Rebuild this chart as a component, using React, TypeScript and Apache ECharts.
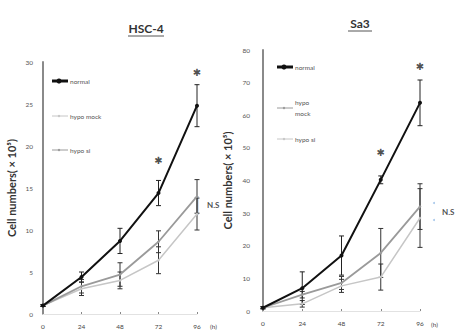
import React, { useEffect, useRef } from "react";
import * as echarts from "echarts";

const hours = [0, 24, 48, 72, 96];
const hourLabels = ["0", "24", "48", "72", "96"];

// HSC-4
const hscNormal = [1, 4.4, 8.7, 14.4, 24.8];
const hscNormalErr = [0.1, 0.6, 1.5, 1.5, 2.5];
const hscMock = [1, 3.0, 4.0, 6.4, 11.9];
const hscMockErr = [0.1, 0.8, 1.0, 1.6, 1.9];
const hscSi = [1, 3.3, 4.7, 8.6, 14.0];
const hscSiErr = [0.1, 0.8, 1.4, 1.3, 2.0];
const hscStars = [[72, 18.3], [96, 28.7]];
const hscNS = [[96, 13]];

// Sa3
const saNormal = [1, 7, 17, 40.2, 63.8];
const saNormalErr = [0.3, 5, 6, 1.2, 7];
const saMock = [1, 2.2, 7.7, 10.4, 28.5];
const saMockErr = [0.3, 1, 2, 4, 9];
const saSi = [1, 5, 8.6, 17.8, 32];
const saSiErr = [0.3, 1, 2, 7.5, 7];
const saStars = [[72, 48.5], [96, 74.8]];
const saNS = [[96, 30.4]];

const BLACK = "#111111";
const MID = "#9a9a9a";
const LIGHT = "#c6c6c6";
const FONT = "Lato, 'Open Sans', sans-serif";

function pts(vals: number[]) {
  return hours.map((h, i) => [h, vals[i]]);
}
function errs(vals: number[], e: number[]) {
  return hours.map((h, i) => [h, vals[i] - e[i], vals[i] + e[i]]);
}

function errSeries(data: number[][], idx: number, color: string) {
  return {
    type: "custom",
    xAxisIndex: idx,
    yAxisIndex: idx,
    silent: true,
    z: 1,
    encode: { x: 0, y: [1, 2] },
    data,
    renderItem: (params: any, api: any) => {
      const x = api.value(0);
      const lo = api.value(1);
      const hi = api.value(2);
      const t = api.coord([x, hi]);
      const b = api.coord([x, lo]);
      const w = 2.5;
      const st = { stroke: color, lineWidth: 1 };
      return {
        type: "group",
        children: [
          { type: "line", shape: { x1: t[0], y1: t[1], x2: b[0], y2: b[1] }, style: st },
          { type: "line", shape: { x1: t[0] - w, y1: t[1], x2: t[0] + w, y2: t[1] }, style: st },
          { type: "line", shape: { x1: b[0] - w, y1: b[1], x2: b[0] + w, y2: b[1] }, style: st },
        ],
      };
    },
  };
}

function lineSeries(name: string, vals: number[], idx: number, color: string, width: number, sym: string, size: number) {
  return {
    name,
    type: "line",
    xAxisIndex: idx,
    yAxisIndex: idx,
    data: pts(vals),
    smooth: false,
    symbol: sym,
    symbolSize: size,
    lineStyle: { color, width },
    itemStyle: { color },
    z: 3,
  };
}

function annot(data: number[][], idx: number, text: string, pos: any, size: number, offset: number[]) {
  return {
    type: "scatter",
    xAxisIndex: idx,
    yAxisIndex: idx,
    data,
    symbolSize: 0,
    clip: false,
    silent: true,
    label: {
      show: true,
      formatter: text,
      position: pos,
      offset,
      align: "left",
      verticalAlign: "middle",
      color: "#222",
      fontSize: size,
      fontWeight: "bold",
      fontFamily: FONT,
    },
  };
}

function starSeries(data: number[][], idx: number) {
  return {
    type: "scatter",
    xAxisIndex: idx,
    yAxisIndex: idx,
    data,
    symbolSize: 0,
    clip: false,
    silent: true,
    label: {
      show: true,
      formatter: "✱",
      position: "inside",
      color: "#222",
      fontSize: 10,
      fontFamily: "DejaVu Sans",
    },
  };
}

function legendGroup(x: number, y: number, items: { label: string; color: string; width: number; dy: number }[]) {
  const children: any[] = [];
  items.forEach((it) => {
    children.push({
      type: "line",
      shape: { x1: x, y1: y + it.dy, x2: x + 16, y2: y + it.dy },
      style: { stroke: it.color, lineWidth: it.width },
    });
    children.push({
      type: "circle",
      shape: { cx: x + 7, cy: y + it.dy, r: it.width > 2 ? 2.5 : 1.2 },
      style: { fill: it.color },
    });
    children.push({
      type: "text",
      x: x + 18,
      y: y + it.dy,
      style: { text: it.label, fill: "#555", fontSize: 6.5, fontFamily: FONT, verticalAlign: "middle", lineHeight: 11 },
    });
  });
  return { type: "group", children };
}

function xAxisCfg(idx: number) {
  return {
    type: "value",
    gridIndex: idx,
    min: 0,
    max: 96,
    interval: 24,
    axisLine: { show: true, lineStyle: { color: "#e2e2e2", width: 1 } },
    axisTick: { show: true, length: 2, inside: true, lineStyle: { color: "#888" } },
    splitLine: { show: false },
    axisLabel: {
      margin: 9,
      fontSize: 6.5,
      color: "#444",
      fontFamily: FONT,
      formatter: (v: number) => hourLabels[hours.indexOf(v)] ?? "",
    },
  };
}

function yAxisCfg(idx: number, max: number, interval: number, gap: number, margin: number) {
  return {
    type: "value",
    gridIndex: idx,
    min: 0,
    max,
    interval,
    name: "Cell numbers( × 10⁵)",
    nameLocation: "middle",
    nameGap: gap,
    nameTextStyle: { fontSize: 11, fontWeight: "bold", color: "#333", fontFamily: FONT },
    axisLine: { show: true, lineStyle: { color: "#8a8a8a", width: 2 } },
    axisTick: { show: false },
    splitLine: { show: false },
    axisLabel: { margin, fontSize: 6.5, color: "#555", fontFamily: FONT },
  };
}

export default function App() {
  const ref = useRef<HTMLDivElement>(null);
  useEffect(() => {
    if (!ref.current) return;
    const chart = echarts.init(ref.current, undefined, { renderer: "svg" });
    chart.setOption({
      animation: false,
      backgroundColor: "#ffffff",
      title: [
        { text: "HSC-4", left: 146, top: 22, padding: 0, textAlign: "center", textStyle: { fontSize: 12, fontWeight: "bold", color: "#333", fontFamily: FONT } },
        { text: "Sa3", left: 360, top: 17, padding: 0, textAlign: "center", textStyle: { fontSize: 12, fontWeight: "bold", color: "#333", fontFamily: FONT } },
      ],
      grid: [
        { left: 43, top: 62, width: 154, height: 252 },
        { left: 263, top: 50, width: 157, height: 261 },
      ],
      xAxis: [xAxisCfg(0), xAxisCfg(1)],
      yAxis: [yAxisCfg(0, 30, 5, 26, 10), yAxisCfg(1, 80, 10, 30, 13)],
      graphic: [
        { type: "line", shape: { x1: 128, y1: 36, x2: 164, y2: 36 }, style: { stroke: "#555", lineWidth: 1 } },
        { type: "line", shape: { x1: 348, y1: 31, x2: 372, y2: 31 }, style: { stroke: "#555", lineWidth: 1 } },
        { type: "text", x: 210, y: 326, style: { text: "(h)", fontSize: 6.5, fill: "#444", fontFamily: FONT, verticalAlign: "middle" } },
        { type: "text", x: 431, y: 324, style: { text: "(h)", fontSize: 6.5, fill: "#444", fontFamily: FONT, verticalAlign: "middle" } },
        legendGroup(52, 81, [
          { label: "normal", color: BLACK, width: 3, dy: 0 },
          { label: "hypo mock", color: LIGHT, width: 1, dy: 35 },
          { label: "hypo si", color: MID, width: 1, dy: 69 },
        ]),
        legendGroup(277, 67, [
          { label: "normal", color: BLACK, width: 3, dy: 0 },
          { label: "hypo\nmock", color: MID, width: 1, dy: 41 },
          { label: "hypo si", color: LIGHT, width: 1, dy: 72 },
        ]),
        { type: "line", shape: { x1: 198, y1: 196, x2: 198, y2: 215 }, style: { stroke: "#a8c8ea", lineWidth: 1 } },
        { type: "circle", shape: { cx: 434, cy: 203, r: 1 }, style: { fill: "#a8c8ea" } },
        { type: "circle", shape: { cx: 434, cy: 220, r: 1 }, style: { fill: "#a8c8ea" } },
      ],
      series: [
        errSeries(errs(hscSi, hscSiErr), 0, "#333"),
        errSeries(errs(hscMock, hscMockErr), 0, "#333"),
        errSeries(errs(hscNormal, hscNormalErr), 0, "#222"),
        lineSeries("hypo mock", hscMock, 0, LIGHT, 1.5, "diamond", 3),
        lineSeries("hypo si", hscSi, 0, MID, 1.8, "diamond", 3),
        lineSeries("normal", hscNormal, 0, BLACK, 2, "circle", 4),
        starSeries(hscStars, 0),
        annot(hscNS, 0, "N.S", "inside", 8, [10, 0]),
        errSeries(errs(saSi, saSiErr), 1, "#333"),
        errSeries(errs(saMock, saMockErr), 1, "#333"),
        errSeries(errs(saNormal, saNormalErr), 1, "#222"),
        lineSeries("hypo mock", saMock, 1, LIGHT, 1.5, "diamond", 3),
        lineSeries("hypo si", saSi, 1, MID, 1.8, "diamond", 3),
        lineSeries("normal", saNormal, 1, BLACK, 2, "circle", 4),
        starSeries(saStars, 1),
        annot(saNS, 1, "N.S", "inside", 8, [22, 0]),
      ],
    });
    return () => chart.dispose();
  }, []);
  return <div ref={ref} style={{ width: 457, height: 332, position: "absolute", left: 0, top: 0 }} />;
}
